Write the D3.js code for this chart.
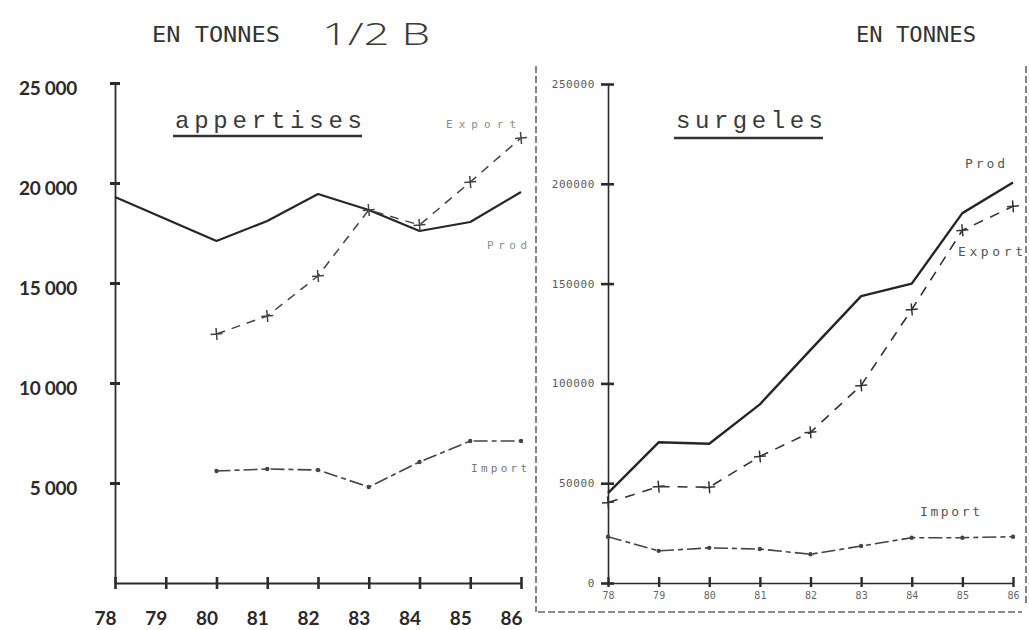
<!DOCTYPE html>
<html><head><meta charset="utf-8">
<script src="https://cdn.jsdelivr.net/npm/d3@7"></script>
<style>body{margin:0;background:#fff}svg{display:block}</style></head>
<body><svg id="c" width="1029" height="630"></svg>
<script>
const years=[78,79,80,81,82,83,84,85,86];
const appProd=[19300,18200,17100,18100,19450,18650,17600,18050,19550];
const appExport=[null,null,12450,13350,15350,18650,17900,20050,22250];
const appImport=[null,null,5600,5700,5650,4800,6050,7100,7100];
const surProd=[45000,70500,69800,89500,116800,143700,150000,185300,200700];
const surExport=[40300,48300,48000,63400,75500,99000,137000,176700,188700];
const surImport=[23200,16100,17600,17000,14400,18500,22700,22700,23200];
const appYTicks=[5000,10000,15000,20000,25000];
const appYLabels=["5 000","10 000","15 000","20 000","25 000"];
const surYTicks=[0,50000,100000,150000,200000,250000];
const surYLabels=["0","50000","100000","150000","200000","250000"];
const yearLabels=["78","79","80","81","82","83","84","85","86"];

const svg=d3.select("#c");
const ink="#2b2b2b";

// scales
const xA=d3.scaleLinear().domain([78,86]).range([115,521]);
const yA=d3.scaleLinear().domain([0,25000]).range([583,83]);
const xS=d3.scaleLinear().domain([78,86]).range([608,1013]);
const yS=d3.scaleLinear().domain([0,250000]).range([583,84]);

// headers
svg.append("text").attr("x",152).attr("y",42).attr("font-family","DejaVu Sans Mono").attr("font-size",22)
  .attr("fill","#333").attr("textLength",128).attr("lengthAdjust","spacingAndGlyphs").text("EN TONNES");
svg.append("text").attr("x",322).attr("y",45).attr("font-family","'Open Sans',sans-serif").attr("font-weight",300).attr("font-size",32)
  .attr("fill","#3a3a3a").attr("textLength",108).attr("lengthAdjust","spacingAndGlyphs").text("1/2 B");
svg.append("text").attr("x",856).attr("y",42).attr("font-family","DejaVu Sans Mono").attr("font-size",22)
  .attr("fill","#333").attr("textLength",120).attr("lengthAdjust","spacingAndGlyphs").text("EN TONNES");

// dashed frame of right panel
const frame=svg.append("g").attr("stroke","#666").attr("stroke-width",1.6).attr("stroke-dasharray","7,3").attr("fill","none");
frame.append("line").attr("x1",536).attr("x2",536).attr("y1",66).attr("y2",612);
frame.append("line").attr("x1",1026).attr("x2",1026).attr("y1",66).attr("y2",606);
frame.append("line").attr("x1",538).attr("x2",1022).attr("y1",612).attr("y2",612);

// ---------- Left panel axes ----------
const gAy=svg.append("g").attr("transform",`translate(${xA(78)},0)`)
  .call(d3.axisLeft(yA).tickValues(appYTicks).tickFormat((d,i)=>appYLabels[i]).tickSize(0).tickPadding(38));
gAy.select(".domain").attr("stroke",ink).attr("stroke-width",1.8);
gAy.selectAll(".tick").append("line").attr("x1",-5).attr("x2",5).attr("stroke",ink).attr("stroke-width",3);
gAy.selectAll(".tick text").attr("font-family","Lato").attr("font-weight",700).attr("font-size",19)
  .attr("fill","#2a2a2a").attr("dy","0.62em").attr("letter-spacing",-0.3);

const gAx=svg.append("g").attr("transform",`translate(0,${yA(0)})`)
  .call(d3.axisBottom(xA).tickValues(years).tickFormat((d,i)=>yearLabels[i]).tickSize(0).tickPadding(29));
gAx.select(".domain").attr("stroke",ink).attr("stroke-width",1.8);
gAx.selectAll(".tick").append("line").attr("y1",-6).attr("y2",6).attr("stroke",ink).attr("stroke-width",2.6);
gAx.selectAll(".tick text").attr("font-family","Lato").attr("font-weight",700).attr("font-size",19)
  .attr("fill","#2a2a2a").attr("dx",-10);

// ---------- Right panel axes ----------
const gSy=svg.append("g").attr("transform",`translate(${xS(78)},0)`)
  .call(d3.axisLeft(yS).tickValues(surYTicks).tickFormat((d,i)=>surYLabels[i]).tickSize(0).tickPadding(13));
gSy.select(".domain").attr("stroke",ink).attr("stroke-width",1.6);
gSy.selectAll(".tick").append("line").attr("x1",-7).attr("x2",6).attr("stroke",ink).attr("stroke-width",2.6);
gSy.selectAll(".tick text").attr("font-family","DejaVu Sans Mono").attr("font-size",11)
  .attr("fill","#5a5a5a").attr("letter-spacing",0.6);

const gSx=svg.append("g").attr("transform",`translate(0,${yS(0)})`)
  .call(d3.axisBottom(xS).tickValues(years).tickFormat((d,i)=>yearLabels[i]).tickSize(0).tickPadding(9));
gSx.select(".domain").attr("stroke",ink).attr("stroke-width",1.6);
gSx.selectAll(".tick").append("line").attr("y1",-6).attr("y2",4).attr("stroke",ink).attr("stroke-width",2.4);
gSx.selectAll(".tick text").attr("font-family","DejaVu Sans Mono").attr("font-size",10).attr("fill","#666");

// ---------- series drawing ----------
function drawSeries(x,y,vals,style){
  const pts=years.map((yr,i)=>({yr,v:vals[i]})).filter(d=>d.v!=null);
  const line=d3.line().x(d=>x(d.yr)).y(d=>y(d.v));
  svg.append("path").datum(pts).attr("d",line).attr("fill","none")
    .attr("stroke",style.color).attr("stroke-width",style.width)
    .attr("stroke-dasharray",style.dash||null).attr("stroke-linejoin","round");
  if(style.marker==="plus"){
    const g=svg.append("g").attr("stroke",style.color).attr("stroke-width",1.5);
    g.selectAll("path.m").data(pts).join("path")
      .attr("d",d=>{const cx=x(d.yr),cy=y(d.v);return `M${cx-6},${cy+0.5}L${cx+6},${cy-0.5}M${cx-0.5},${cy-6}L${cx+0.5},${cy+6}`;});
  } else if(style.marker==="dot"){
    svg.append("g").selectAll("circle").data(pts).join("circle")
      .attr("cx",d=>x(d.yr)).attr("cy",d=>y(d.v)).attr("r",2.2).attr("fill",style.color);
  }
}
drawSeries(xA,yA,appProd,{color:"#262626",width:2.2});
drawSeries(xA,yA,appExport,{color:"#444",width:1.5,dash:"9,7",marker:"plus"});
drawSeries(xA,yA,appImport,{color:"#444",width:1.6,dash:"14,4,5,4",marker:"dot"});
drawSeries(xS,yS,surProd,{color:"#262626",width:2.4});
drawSeries(xS,yS,surExport,{color:"#333",width:1.6,dash:"10,8",marker:"plus"});
drawSeries(xS,yS,surImport,{color:"#444",width:1.6,dash:"14,4,5,4",marker:"dot"});

// ---------- panel titles ----------
function title(txt,x,y,len,uy){
  svg.append("text").attr("x",x).attr("y",y).attr("font-family","Liberation Mono").attr("font-size",24)
    .attr("fill","#3a3a3a").attr("textLength",len).attr("lengthAdjust","spacing").text(txt);
  svg.append("line").attr("x1",x-2).attr("x2",x+len).attr("y1",uy).attr("y2",uy)
    .attr("stroke","#333").attr("stroke-width",2.6);
}
title("appertises",175,128,187,136);
title("surgeles",676,128,147,138);

// ---------- series labels ----------
function lab(txt,x,y,len,col,size){
  svg.append("text").attr("x",x).attr("y",y).attr("font-family","DejaVu Sans Mono").attr("font-size",size)
    .attr("fill",col).attr("textLength",len).attr("lengthAdjust","spacing").attr("dominant-baseline","middle").text(txt);
}
lab("Export",446,125,70,"#8a8a8a",11);
lab("Prod",487,246,40,"#8a8a8a",11);
lab("Import",471,469,56,"#777",11);
lab("Prod",965,164,40,"#555",13);
lab("Export",958,252,65,"#555",13);
lab("Import",920,512,60,"#555",13);
</script></body></html>
